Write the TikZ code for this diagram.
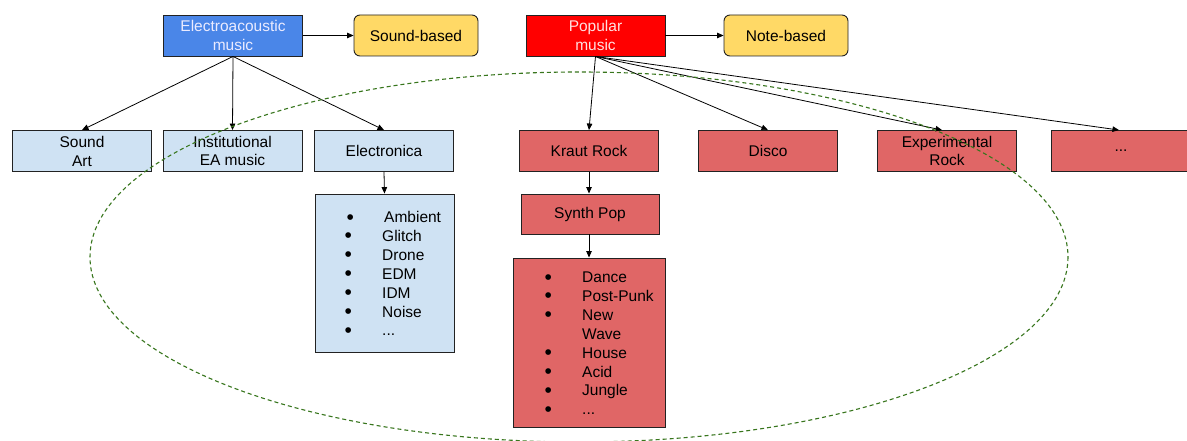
\documentclass[tikz,border=0pt]{standalone}
\usepackage{fontspec}
\setmainfont{Liberation Sans}
\usetikzlibrary{arrows.meta}
\definecolor{eablue}{HTML}{4A86E8}
\definecolor{popred}{HTML}{FF0000}
\definecolor{lblue}{HTML}{CFE2F3}
\definecolor{lred}{HTML}{E06666}
\definecolor{yel}{HTML}{FFD966}
\definecolor{dgreen}{HTML}{38761D}
\definecolor{edge}{HTML}{222222}
\newcommand\mybul{\raisebox{-1.5pt}{\fontsize{21}{0}\selectfont\textbullet}}
\begin{document}
\begin{tikzpicture}[x=1pt,y=-1pt,
  every node/.style={font=\fontsize{15.5}{18.9}\selectfont, inner sep=0pt},
  box/.style={draw=edge, line width=0.9pt, minimum width=139pt, minimum height=41pt, align=center},
  topblue/.style={box, fill=eablue, text=white!92!blue},
  topred/.style={box, fill=popred, text=white!88!red},
  yelbox/.style={box, fill=yel, rounded corners=6pt, minimum width=124pt},
  bluebox/.style={box, fill=lblue},
  redbox/.style={box, fill=lred},
  arr/.style={draw=black, line width=0.8pt, -{Triangle[length=6.5pt,width=5.5pt]}},
  listtxt/.style={anchor=base west, align=left}
]
\useasboundingbox (0,0) rectangle (1187,441);
\fill[white] (0,0) rectangle (1187,441);

% top row
\node[topblue] (ea) at (233,35.5) {Electroacoustic\\music};
\node[yelbox] (sb) at (416,35.5) {Sound-based};
\node[topred] (pm) at (595.5,35.5) {Popular\\music};
\node[yelbox] (nb) at (786,35.5) {Note-based};

% second row
\node[bluebox] (sa) at (82,151) {Sound\\Art};
\node[bluebox] (ins) at (232.5,151) {Institutional\\EA music};
\node[bluebox] (el) at (384,151) {Electronica};
\node[redbox] (kr) at (589,151) {Kraut Rock};
\node[redbox] (di) at (768,151) {Disco};
\node[redbox] (ex) at (947,151) {Experimental\\Rock};
\node[redbox] (dots) at (1121,151) {...};

% lower boxes
\node[bluebox, minimum width=139pt, minimum height=158pt] (ell) at (384.5,273) {};
\node[redbox, minimum width=138pt, minimum height=40pt] (sp) at (590,214) {Synth Pop};
\node[redbox, minimum width=152pt, minimum height=169pt] (spl) at (589.5,342.5) {};

% list texts (anchor = baseline of last line)
\node[listtxt] (elltxt) at (344.5,335.9) {%
\makebox[39.5pt][l]{\hspace{2pt}\mybul}Ambient\\
\makebox[37.5pt][l]{\mybul}Glitch\\
\makebox[37.5pt][l]{\mybul}Drone\\
\makebox[37.5pt][l]{\mybul}EDM\\
\makebox[37.5pt][l]{\mybul}IDM\\
\makebox[37.5pt][l]{\mybul}Noise\\
\makebox[37.5pt][l]{\mybul}...};
\node[listtxt] (spltxt) at (544.3,414.8) {%
\makebox[37.7pt][l]{\mybul}Dance\\
\makebox[37.7pt][l]{\mybul}Post-Punk\\
\makebox[37.7pt][l]{\mybul}New\\
\makebox[37.7pt][l]{}Wave\\
\makebox[37.7pt][l]{\mybul}House\\
\makebox[37.7pt][l]{\mybul}Acid\\
\makebox[37.7pt][l]{\mybul}Jungle\\
\makebox[37.7pt][l]{\mybul}...};

% connectors
\draw[arr] (ea) -- (sb);
\draw[arr] (pm) -- (nb);
\draw[arr] (ea.south) -- (sa.north);
\draw[arr] (ea.south) -- (ins.north);
\draw[arr] (ea.south) -- (el.north);
\draw[arr] (el.south) -- (ell.north);
\draw[arr] (pm.south) -- (kr.north);
\draw[arr] (pm.south) -- (di.north);
\draw[arr] (pm.south) -- ([xshift=-5pt]ex.north);
\draw[arr] (pm.south) -- ([xshift=-2pt]dots.north);
\draw[arr] (kr.south) -- (kr.south |- sp.north);
\draw[arr] (sp.south -| kr.south) -- (kr.south |- spl.north);

% dashed ellipse, drawn over the boxes
\draw[dgreen, line width=1.1pt, dash pattern=on 4pt off 3pt] (579,257) ellipse [x radius=489, y radius=185];
\end{tikzpicture}
\end{document}
